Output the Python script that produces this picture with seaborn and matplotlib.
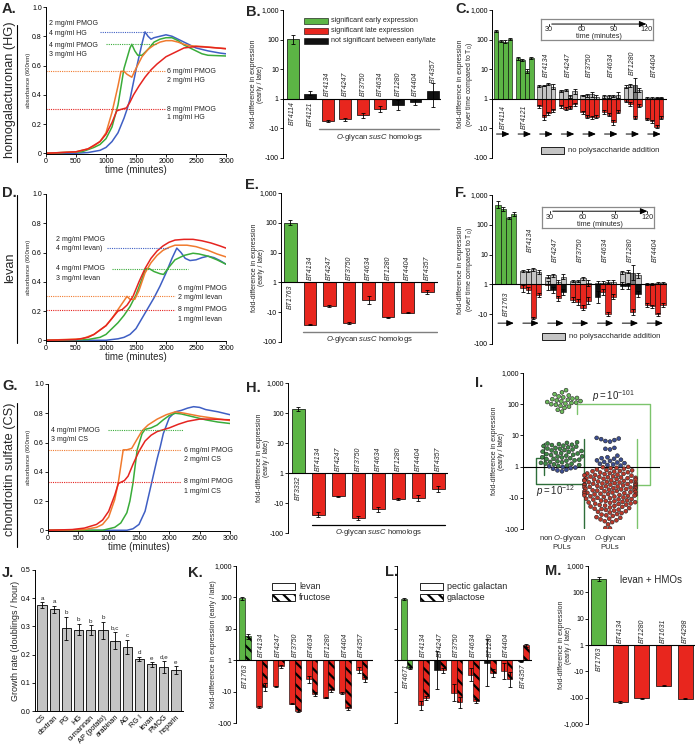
import numpy as np
import pandas as pd
import matplotlib
matplotlib.use("Agg")
import matplotlib.pyplot as plt
import seaborn as sns
from matplotlib.patches import Rectangle
from matplotlib.lines import Line2D

sns.set_theme(style="ticks")
plt.rcParams["font.family"] = ["Liberation Sans", "DejaVu Sans"]
plt.rcParams.update({
    "mathtext.fontset": "custom", "mathtext.rm": "Liberation Sans",
    "mathtext.it": "Liberation Sans:italic", "mathtext.bf": "Liberation Sans:bold",
    "axes.linewidth": 0.7, "xtick.major.width": 0.6, "ytick.major.width": 0.6,
    "xtick.major.size": 2, "ytick.major.size": 2, "xtick.labelsize": 5, "ytick.labelsize": 5,
    "xtick.major.pad": 1, "ytick.major.pad": 1, "hatch.linewidth": 1.6,
    "axes.edgecolor": "black", "xtick.color": "black", "ytick.color": "black",
})

# ------------------------------------------------------------------ DATA
# growth curves (time in minutes, absorbance 600nm)
A_blue_t = [0, 500, 700, 900, 1000, 1100, 1200, 1300, 1350, 1400, 1500, 1600, 1650, 1700, 1750, 1800, 1900, 2000, 2100, 2200, 2300, 2400, 2500, 2700, 2900, 3000]
A_blue_a = [0, 0, 0.005, 0.02, 0.04, 0.08, 0.14, 0.24, 0.30, 0.37, 0.57, 0.75, 0.83, 0.80, 0.78, 0.79, 0.80, 0.81, 0.80, 0.78, 0.76, 0.74, 0.72, 0.70, 0.685, 0.68]
A_green_t = [0, 600, 800, 900, 1000, 1100, 1200, 1300, 1400, 1430, 1480, 1530, 1600, 1700, 1800, 1900, 2000, 2100, 2200, 2300, 2400, 2500, 2600, 2700, 3000]
A_green_a = [0, 0.01, 0.04, 0.06, 0.10, 0.18, 0.33, 0.58, 0.72, 0.745, 0.70, 0.67, 0.67, 0.71, 0.76, 0.78, 0.79, 0.79, 0.77, 0.74, 0.72, 0.70, 0.68, 0.67, 0.665]
A_orange_t = [0, 500, 700, 800, 900, 1000, 1100, 1200, 1250, 1300, 1350, 1430, 1500, 1600, 1700, 1800, 1900, 2000, 2100, 2200, 2300, 2400, 2600, 3000]
A_orange_a = [0, 0.01, 0.03, 0.05, 0.08, 0.14, 0.28, 0.46, 0.56, 0.56, 0.54, 0.52, 0.58, 0.66, 0.71, 0.74, 0.76, 0.77, 0.77, 0.76, 0.745, 0.735, 0.73, 0.715]
A_red_t = [0, 500, 700, 900, 1000, 1100, 1180, 1250, 1340, 1400, 1460, 1550, 1650, 1750, 1850, 2000, 2150, 2300, 2500, 2700, 3000]
A_red_a = [0, 0.01, 0.03, 0.08, 0.13, 0.21, 0.29, 0.30, 0.31, 0.35, 0.40, 0.46, 0.52, 0.57, 0.61, 0.66, 0.69, 0.72, 0.73, 0.725, 0.715]

D_blue_t = [0, 1000, 1200, 1300, 1400, 1500, 1600, 1700, 1800, 1900, 2000, 2100, 2180, 2250, 2320, 2400, 2500, 2600, 2700, 2800, 2900, 3000]
D_blue_a = [0, 0.0, 0.01, 0.02, 0.04, 0.08, 0.15, 0.22, 0.29, 0.37, 0.46, 0.56, 0.63, 0.60, 0.56, 0.545, 0.55, 0.565, 0.575, 0.565, 0.545, 0.52]
D_green_t = [0, 700, 900, 1000, 1100, 1200, 1300, 1400, 1500, 1600, 1660, 1720, 1800, 1900, 1960, 2050, 2150, 2300, 2450, 2550, 2700, 2850, 3000]
D_green_a = [0, 0.005, 0.02, 0.04, 0.08, 0.12, 0.17, 0.23, 0.31, 0.42, 0.49, 0.49, 0.47, 0.455, 0.45, 0.50, 0.55, 0.58, 0.595, 0.59, 0.575, 0.55, 0.52]
D_orange_t = [0, 600, 800, 900, 1000, 1100, 1200, 1300, 1350, 1400, 1480, 1550, 1650, 1750, 1850, 1950, 2050, 2150, 2350, 2500, 2700, 2850, 3000]
D_orange_a = [0, 0.01, 0.04, 0.07, 0.10, 0.15, 0.21, 0.27, 0.30, 0.28, 0.28, 0.34, 0.46, 0.53, 0.58, 0.615, 0.635, 0.65, 0.65, 0.64, 0.615, 0.59, 0.57]
D_red_t = [0, 500, 700, 800, 900, 1000, 1100, 1200, 1270, 1350, 1450, 1550, 1650, 1750, 1850, 1950, 2050, 2150, 2300, 2450, 2600, 2750, 2900, 3000]
D_red_a = [0, 0.005, 0.02, 0.04, 0.07, 0.10, 0.15, 0.20, 0.21, 0.24, 0.30, 0.40, 0.49, 0.56, 0.61, 0.645, 0.67, 0.685, 0.69, 0.69, 0.68, 0.665, 0.645, 0.63]

G_blue_t = [0, 1300, 1400, 1500, 1600, 1700, 1800, 1850, 1900, 2000, 2100, 2200, 2300, 2400, 2500, 2600, 2800, 3000]
G_blue_a = [0, 0.0, 0.01, 0.04, 0.13, 0.31, 0.49, 0.57, 0.66, 0.77, 0.81, 0.82, 0.835, 0.845, 0.84, 0.825, 0.81, 0.79]
G_green_t = [0, 900, 1000, 1100, 1200, 1300, 1350, 1400, 1470, 1550, 1600, 1700, 1800, 1900, 2000, 2100, 2200, 2400, 2600, 2800, 3000]
G_green_a = [0, 0.0, 0.01, 0.02, 0.05, 0.12, 0.20, 0.32, 0.55, 0.66, 0.69, 0.70, 0.72, 0.755, 0.785, 0.80, 0.795, 0.775, 0.755, 0.74, 0.73]
G_orange_t = [0, 600, 800, 900, 1000, 1100, 1160, 1240, 1300, 1380, 1450, 1550, 1650, 1800, 1950, 2100, 2250, 2500, 2750, 3000]
G_orange_a = [0, 0.005, 0.02, 0.04, 0.09, 0.21, 0.33, 0.55, 0.55, 0.56, 0.61, 0.68, 0.72, 0.76, 0.79, 0.81, 0.80, 0.78, 0.765, 0.75]
G_red_t = [0, 400, 600, 800, 900, 1000, 1100, 1160, 1260, 1320, 1400, 1500, 1600, 1700, 1800, 2000, 2150, 2300, 2500, 2700, 3000]
G_red_a = [0, 0.005, 0.015, 0.04, 0.07, 0.13, 0.24, 0.32, 0.34, 0.37, 0.45, 0.54, 0.61, 0.65, 0.675, 0.70, 0.725, 0.745, 0.76, 0.76, 0.755]

A_notes = [("2 mg/ml PMOG", "4 mg/ml HG"), ("4 mg/ml PMOG", "3 mg/ml HG"),
           ("6 mg/ml PMOG", "2 mg/ml HG"), ("8 mg/ml PMOG", "1 mg/ml HG")]
A_levels = [0.83, 0.745, 0.56, 0.30]
D_notes = [("2 mg/ml PMOG", "4 mg/ml levan)"), ("4 mg/ml PMOG", "3 mg/ml levan"),
           ("6 mg/ml PMOG", "2 mg/ml levan"), ("8 mg/ml PMOG", "1 mg/ml levan")]
D_levels = [0.63, 0.49, 0.30, 0.21]
G_notes = [("4 mg/ml PMOG", "3 mg/ml CS"), ("6 mg/ml PMOG", "2 mg/ml CS"), ("8 mg/ml PMOG", "1 mg/ml CS")]
G_levels = [0.687, 0.549, 0.33]

# fold-difference bar panels (early / late)
B_genes = ["BT4114", "BT4121", "BT4134", "BT4247", "BT3750", "BT4634", "BT1280", "BT4404", "BT4357"]
B_fold = [105, 1.47, -5.5, -5.0, -3.6, -2.15, -1.6, -1.3, 1.9]
B_err_lo = [0.16, 0.03, 0.03, 0.05, 0.09, 0.1, 0.17, 0.1, 0.56]
B_err_hi = [0.15, 0.11, 0.03, 0.05, 0.09, 0.1, 0.17, 0.1, 0.24]
B_cls = ["early", "ns", "late", "late", "late", "late", "ns", "ns", "ns"]

E_genes = ["BT1763", "BT4134", "BT4247", "BT3750", "BT4634", "BT1280", "BT4404", "BT4357"]
E_fold = [100, -26, -6.2, -23, -4.0, -14.6, -10.4, -2.1]
E_err = [0.08, 0.03, 0.02, 0.03, 0.13, 0.02, 0.02, 0.08]

H_genes = ["BT3332", "BT4134", "BT4247", "BT3750", "BT4634", "BT1280", "BT4404", "BT4357"]
H_fold = [135, -24.5, -6.0, -32, -16, -7.2, -6.8, -3.4]
H_err = [0.07, 0.08, 0.02, 0.07, 0.08, 0.03, 0.09, 0.09]

M_genes = ["BT1763", "BT4134", "BT1280", "BT1631", "BT4298"]
M_fold = [320, -150, -107, -35, -112]
M_err = [0.06, 0.04, 0.03, 0.02, 0.02]

# time course panels (fold vs T0 at 30/60/90/120 min)
C_genes = ["BT4114", "BT4121", "BT4134", "BT4247", "BT3750", "BT4634", "BT1280", "BT4404"]
C_treat = [[190, 88, 84, 107], [23, 21, 8.5, 24.5], [-1.8, -4.2, -3.1, -2.4], [-1.8, -2.2, -2.0, -1.55],
           [-2.8, -4.0, -4.2, -4.0], [-2.8, -3.5, -6.2, -2.7], [-1.15, -1.5, -4.3, -1.7], [-4.8, -5.7, -8.7, -4.3]]
C_treat_cls = ["gggg", "gggg", "rrrr", "rrrr", "rrrr", "rrrr", "rrrr", "rrrr"]
C_treat_err = [[0.03, 0.03, 0.05, 0.03], [0.06, 0.03, 0.07, 0.03], [0.04, 0.08, 0.05, 0.05], [0.05, 0.05, 0.05, 0.06],
               [0.05, 0.06, 0.05, 0.06], [0.06, 0.05, 0.08, 0.06], [0.06, 0.06, 0.06, 0.06], [0.04, 0.05, 0.06, 0.05]]
C_ctrl = [[np.nan] * 4, [np.nan] * 4, [2.7, 2.8, 3.2, 2.6], [1.8, 2.0, 1.2, 1.8], [1.3, 1.3, 1.4, 1.15],
          [1.2, 1.2, 1.25, 1.3], [2.6, 2.9, 2.9, 2.0], [1.05, 1.05, 1.1, 1.1]]
C_ctrl_cls = ["ssss", "ssss", "ssss", "ssss", "ssss", "ssss", "ssds", "ssss"]
C_ctrl_err = [[0] * 4, [0] * 4, [0.03, 0.03, 0.04, 0.08], [0.04, 0.04, 0.06, 0.08], [0.03, 0.04, 0.08, 0.08],
              [0.05, 0.05, 0.04, 0.1], [0.04, 0.05, 0.24, 0.08], [0.03, 0.03, 0.03, 0.03]]

F_genes = ["BT1763", "BT4134", "BT4247", "BT3750", "BT4634", "BT1280", "BT4404"]
F_treat = [[470, 340, 166, 235], [-1.35, -1.55, -13.5, -2.3], [-1.05, -1.5, -2.9, -1.75], [-3.3, -3.8, -6.0, -3.5],
           [-2.6, -1.75, -10, -2.6], [-1.1, -1.1, -8.5, -2.1], [-4.9, -5.5, -10, -4.9]]
F_treat_cls = ["gggg", "rrrr", "rkrk", "rrrr", "krrr", "kkrk", "rrrr"]
F_treat_err = [[0.12, 0.06, 0.04, 0.07], [0.12, 0.1, 0.04, 0.06], [0.15, 0.1, 0.08, 0.1], [0.08, 0.1, 0.08, 0.12],
               [0.2, 0.1, 0.06, 0.08], [0.12, 0.1, 0.1, 0.1], [0.06, 0.06, 0.05, 0.06]]
F_ctrl = [[np.nan] * 4, [2.8, 2.9, 3.2, 2.6], [1.8, 2.0, 1.2, 1.8], [1.3, 1.3, 1.6, 1.1],
          [1.15, 1.15, 1.25, 1.2], [2.6, 2.7, 2.5, 2.0], [1.05, 1.05, 1.1, 1.1]]
F_ctrl_cls = ["ssss", "ssss", "ssss", "ssss", "ssss", "ssds", "ssss"]
F_ctrl_err = [[0] * 4, [0.04, 0.04, 0.05, 0.06], [0.05, 0.04, 0.06, 0.08], [0.03, 0.04, 0.06, 0.1],
              [0.05, 0.05, 0.05, 0.08], [0.05, 0.05, 0.25, 0.08], [0.03, 0.03, 0.03, 0.03]]
time_ticks = [30, 60, 90, 120]

# panel I: log10 fold-difference of individual genes
I_nonO_high = [2.45, 2.38, 2.32, 2.28, 2.25, 2.22, 2.2, 2.18, 2.16, 2.14, 2.12, 2.1, 2.09, 2.07, 2.05, 2.04,
               2.02, 2.0, 1.98, 1.95, 1.92, 1.88, 1.82, 1.76]
I_nonO_low = [0.78, 0.76, 0.74, 0.72, 0.7, 0.69, 0.67, 0.66, 0.64, 0.62, 0.6, 0.58, 0.57, 0.55, 0.53, 0.52, 0.5,
              0.48, 0.47, 0.45, 0.43, 0.42, 0.4, 0.38, 0.37, 0.35, 0.33, 0.32, 0.3, 0.29, 0.27, 0.25, 0.24, 0.22,
              0.2, 0.19, 0.17, 0.15, 0.14, 0.12, 0.1, 0.09, 0.07, 0.05, 0.04, 0.02]
I_nonO_blue = [0.01, -0.01, -0.03, -0.05, -0.07, -0.1, -0.12, -0.15]
I_O_blue = [0.92, 0.9, 0.88, 0.85, 0.82, 0.8, 0.6, 0.57, 0.55, 0.35, 0.3, 0.27, 0.25, 0.22, 0.2, 0.18, 0.15,
            0.13, 0.11, 0.09, 0.07, 0.05, 0.03]
I_O_red = [-0.01, -0.02, -0.04, -0.05, -0.07, -0.09,
           -0.11, -0.12, -0.14, -0.15, -0.16, -0.18, -0.19,
           -0.21, -0.22, -0.23, -0.24, -0.26, -0.27, -0.28, -0.29,
           -0.31, -0.32, -0.33, -0.34, -0.35, -0.36, -0.37, -0.38, -0.39,
           -0.4, -0.41, -0.42, -0.43, -0.44, -0.45, -0.46, -0.47, -0.48, -0.49,
           -0.5, -0.51, -0.52, -0.53, -0.54, -0.55, -0.56, -0.57, -0.575, -0.58, -0.59,
           -0.6, -0.61, -0.62, -0.63, -0.64, -0.65, -0.66, -0.665, -0.67, -0.68, -0.69,
           -0.7, -0.71, -0.72, -0.73, -0.74, -0.75, -0.76, -0.77, -0.78, -0.79,
           -0.8, -0.81, -0.82, -0.83, -0.84, -0.85, -0.86, -0.87, -0.88, -0.89,
           -0.9, -0.91, -0.92, -0.93, -0.94, -0.95, -0.96, -0.97, -0.99,
           -1.0, -1.01, -1.03, -1.04, -1.05, -1.06, -1.08, -1.09,
           -1.1, -1.11, -1.13, -1.14, -1.15, -1.16, -1.18, -1.19,
           -1.2, -1.22, -1.23, -1.25, -1.26, -1.28, -1.29,
           -1.31, -1.33, -1.35, -1.36, -1.38, -1.39,
           -1.41, -1.43, -1.45, -1.47, -1.49,
           -1.52, -1.54, -1.56, -1.58,
           -1.62, -1.64, -1.67, -1.69,
           -1.72, -1.75, -1.78, -1.85, -1.97, -1.98]

# panel J growth rates
J_subs = ["CS", "dextran", "PG", "HG", "α-mannan", "AP (potato)", "arabinan", "AG", "RG I", "levan", "PMOG", "heparin"]
J_rate = [0.375, 0.36, 0.293, 0.288, 0.286, 0.287, 0.25, 0.228, 0.184, 0.165, 0.155, 0.145]
J_err = [0.01, 0.013, 0.04, 0.02, 0.018, 0.03, 0.03, 0.025, 0.007, 0.008, 0.022, 0.013]
J_letters = ["a", "a", "b", "b", "b", "b", "b,c", "c", "d", "e", "d,e", "e"]

# panels K and L: paired polysaccharide / monosaccharide
K_genes = ["BT1763", "BT4134", "BT4247", "BT3750", "BT4634", "BT1280", "BT4404", "BT4357"]
K_levan = [95, -31, -6.7, -24, -4.1, -15.7, -11.4, -2.1]
K_fructose = [5.8, -7.2, -1.55, -40, -11.7, -9.2, -34, -4.1]
K_levan_err = [0.05, 0.03, 0.02, 0.03, 0.12, 0.02, 0.03, 0.1]
K_fructose_err = [0.08, 0.12, 0.05, 0.06, 0.06, 0.04, 0.05, 0.07]
K_levan_cls = "grrrrrrr"
K_fructose_cls = "grrrrrrr"
L_genes = ["BT4671", "BT4134", "BT4247", "BT3750", "BT4634", "BT1280", "BT4404", "BT4357"]
L_pgal = [90, -27, -2.1, -11, -2.9, -1.2, -2.2, -1.1]
L_galactose = [-1.75, -15.7, -2.1, -22, -20, -2.5, -4.1, 3.0]
L_pgal_err = [0.04, 0.14, 0.6, 0.27, 0.2, 0.75, 0.25, 0.02]
L_galactose_err = [0.03, 0.06, 0.08, 0.18, 0.06, 0.13, 0.24, 0.05]
L_pgal_cls = "grkrrkrk"
L_galactose_cls = "grrrrrrr"

fold_ticks = [1000, 100, 10, 1, -10, -100]
fold_ticks_M = [1000, 100, 10, 1, -10, -100, -1000]

# ------------------------------------------------------------------ STYLE
GREEN, RED, BLACK, GRAY, DGRAY = "#5cb545", "#e8261e", "#111111", "#c4c4c4", "#767676"
CMAP = {"g": GREEN, "r": RED, "k": BLACK, "s": GRAY, "d": DGRAY,
        "early": GREEN, "late": RED, "ns": BLACK}
LBLUE, LGREEN, LORANGE, LRED = "#3f5fc4", "#3aac3a", "#f07a2e", "#e52420"

W, H = 696, 747
fig = plt.figure(figsize=(W / 100, H / 100), dpi=100)


def axbox(x0, y0, x1, y1):
    return fig.add_axes([x0 / W, 1 - y1 / H, (x1 - x0) / W, (y1 - y0) / H])


def tr(v):
    v = np.asarray(v, float)
    return np.sign(v) * np.log10(np.abs(v))


def ylab(ax, text, xr, x0, x1, fs=5):
    ax.set_ylabel(text, fontsize=fs, linespacing=1.0)
    ax.yaxis.set_label_coords((xr - x0) / (x1 - x0), 0.5)


def fold_axis(ax, ticks, lo, hi, labels=True):
    ax.set_ylim(lo, hi)
    ax.set_yticks(tr(ticks))
    ax.set_yticklabels([f"{t:,}" for t in ticks] if labels else [])
    for s in ["top", "right", "bottom"]:
        ax.spines[s].set_visible(False)
    ax.tick_params(axis="x", bottom=False, labelbottom=False)
    ax.set_xlabel("")
    ax.axhline(0, color="black", lw=0.8, zorder=5)


def ebar(ax, x, y, lo, hi=None):
    hi = lo if hi is None else hi
    ax.errorbar(x, y, yerr=[[lo], [hi]], fmt="none", ecolor="black", elinewidth=0.6,
                capsize=1.4, capthick=0.6, zorder=6)


def gene_text(ax, x, y, name, va):
    ax.text(x, y, name, rotation=90, fontsize=5, style="italic", ha="center", va=va, zorder=7)


def fig_rect(x, y, w, h, **kw):
    fig.add_artist(Rectangle((x / W, 1 - (y + h) / H), w / W, h / H, transform=fig.transFigure, **kw))


def fig_text(x, y, s, **kw):
    fig.text(x / W, 1 - y / H, s, **kw)


# ------------------------------------------------------------------ growth panels
def growth(box, series, levels, spans, notes, note_pos):
    ax = axbox(*box)
    for (t, a), c in zip(series, [LBLUE, LGREEN, LORANGE, LRED]):
        sns.lineplot(x=t, y=a, color=c, lw=1.1, ax=ax)
    cols = [LBLUE, LGREEN, LORANGE, LRED][4 - len(levels):]
    for lev, (s0, s1), c in zip(levels, spans, cols):
        ax.plot([s0, s1], [lev, lev], ls=(0, (1, 1)), color=c, lw=0.8)
    for (l1, l2), (tx, ty1, ty2) in zip(notes, note_pos):
        ax.text(tx, ty1, l1, fontsize=5, va="center", color="#222222")
        ax.text(tx, ty2, l2, fontsize=5, va="center", color="#222222")
    ax.set_xlim(0, 3000)
    ax.set_ylim(-0.005, 1.0)
    ax.set_xticks([0, 500, 1000, 1500, 2000, 2500, 3000])
    ax.set_yticks([0, 0.2, 0.4, 0.6, 0.8, 1.0])
    ax.set_yticklabels(["0", "0.2", "0.4", "0.6", "0.8", "1.0"])
    ax.spines["top"].set_visible(False)
    ax.spines["right"].set_visible(False)
    ax.set_xlabel("time (minutes)", fontsize=7, labelpad=0)
    ylab(ax, "absorbance (600nm)", 31, box[0], box[2], fs=4.3)
    return ax


growth((46, 7, 226, 154),
       [(A_blue_t, A_blue_a), (A_green_t, A_green_a), (A_orange_t, A_orange_a), (A_red_t, A_red_a)],
       A_levels, [(900, 1760), (1000, 1845), (0, 1980), (0, 1980)], A_notes,
       [(55, 0.89, 0.82), (55, 0.74, 0.675), (2010, 0.56, 0.50), (2010, 0.30, 0.243)])
growth((46, 194, 226, 341),
       [(D_blue_t, D_blue_a), (D_green_t, D_green_a), (D_orange_t, D_orange_a), (D_red_t, D_red_a)],
       D_levels, [(1010, 2040), (1095, 2370), (0, 2150), (0, 2150)], D_notes,
       [(167, 0.69, 0.63), (167, 0.49, 0.425), (2205, 0.357, 0.293), (2205, 0.209, 0.14)])
growth((48, 384, 230, 531),
       [(G_blue_t, G_blue_a), (G_green_t, G_green_a), (G_orange_t, G_orange_a), (G_red_t, G_red_a)],
       G_levels, [(990, 2230), (0, 2200), (0, 2200)], G_notes,
       [(55, 0.683, 0.62), (2240, 0.545, 0.484), (2240, 0.33, 0.264)])

for txt, yc, (l0, l1) in [("homogalacturonan (HG)", 90, (25, 162)), ("levan", 268, (195, 343)),
                          ("chondroitin sulfate (CS)", 469, (403, 547))]:
    fig_text(10, yc, txt, rotation=90, fontsize=9.2, ha="center", va="center")
    fig.add_artist(Line2D([17 / W, 17 / W], [1 - l0 / H, 1 - l1 / H], transform=fig.transFigure,
                          color="black", lw=0.8))


# ------------------------------------------------------------------ simple fold bar panels
def fold_bars(box, genes, fold, colors, err_lo, err_hi, xlim, width, ticks, lo, hi, label_pos, ylab_x,
              ylabel_text):
    ax = axbox(*box)
    df = pd.DataFrame({"gene": genes, "v": tr(fold)})
    sns.barplot(data=df, x="gene", y="v", hue="gene", order=genes, palette=dict(zip(genes, colors)),
                width=width, edgecolor="black", linewidth=0.5, legend=False, errorbar=None,
                saturation=1, ax=ax)
    for i, v in enumerate(tr(fold)):
        ebar(ax, i, v, err_lo[i], err_hi[i])
        pos = label_pos[i]
        if pos == "below":
            gene_text(ax, i, -0.08, genes[i], "top")
        elif pos == "above":
            gene_text(ax, i, 0.08, genes[i], "bottom")
        else:
            gene_text(ax, i, v + err_hi[i] + 0.03, genes[i], "bottom")
    fold_axis(ax, ticks, lo, hi)
    ax.set_xlim(*xlim)
    ylab(ax, ylabel_text, ylab_x, box[0], box[2])
    return ax


EL = "fold-difference in expression\n(early / late)"
axB = fold_bars((283, 10, 441, 158), B_genes, B_fold, [CMAP[c] for c in B_cls], B_err_lo, B_err_hi,
                (-0.55, 8.46), 0.67, fold_ticks, -2, 3,
                ["below", "below"] + ["above"] * 6 + ["top"], 264, EL)
axB.plot([1.52, 8.37], [-1.03, -1.03], color="#7f7f7f", lw=1.0)
axB.text(4.94, -1.13, r"$O$-glycan $susC$ homologs", fontsize=5.5, ha="center", va="top")
for k, (cl, lab) in enumerate([("early", "significant early expression"), ("late", "significant late expression"),
                               ("ns", "not significant between early/late")]):
    fig_rect(304, 18 + 10 * k, 24, 5.5, facecolor=CMAP[cl], edgecolor="black", lw=0.4)
    fig_text(331, 21 + 10 * k, lab, fontsize=5.2, va="center")

axE = fold_bars((281, 193, 438, 342), E_genes, E_fold, [GREEN] + [RED] * 7, E_err, E_err,
                (-0.48, 7.55), 0.65, fold_ticks, -2, 3, ["below"] + ["above"] * 7, 265, EL)
axE.plot([0.66, 7.48], [-1.65, -1.65], color="#7f7f7f", lw=1.0)
axE.text(4.07, -1.73, r"$O$-glycan $susC$ homologs", fontsize=5.5, ha="center", va="top")

axH = fold_bars((288, 383, 448, 533), H_genes, H_fold, [GREEN] + [RED] * 7, H_err, H_err,
                (-0.52, 7.49), 0.66, fold_ticks, -2, 3, ["below"] + ["above"] * 7, 270, EL)
axH.plot([0.67, 7.33], [-1.72, -1.72], color="black", lw=0.9)
axH.text(4.0, -1.79, r"$O$-glycan $susC$ homologs", fontsize=5.5, ha="center", va="top")

axM = fold_bars((588, 566, 695, 724), M_genes, M_fold, [GREEN] + [RED] * 4, M_err, M_err,
                (-0.5, 4.46), 0.7, fold_ticks_M, -3, 3, ["below"] + ["above"] * 4, 572, EL)
fig_text(620, 580, "levan + HMOs", fontsize=7, va="center")


# ------------------------------------------------------------------ time course panels C and F
def time_panel(box, genes, treat, tcls, terr, ctrl, ccls, cerr, xlim, lab_above, lab_below, arrow_y,
               inset_box, inset_rows, leg):
    ax = axbox(*box)
    w = 0.21
    for g in range(len(genes)):
        for k in range(4):
            x = g + (k - 1.5) * w
            tv = tr(treat[g][k])
            ax.bar(x, tv, width=w, color=CMAP[tcls[g][k]], edgecolor="black", lw=0.4, zorder=3)
            ebar(ax, x, tv, terr[g][k])
            if not np.isnan(ctrl[g][k]):
                cv = tr(ctrl[g][k])
                ax.bar(x, cv, width=w, color=CMAP[ccls[g][k]], edgecolor="black", lw=0.4, zorder=3)
                ebar(ax, x, cv, cerr[g][k])
        if tr(treat[g][0]) > 0:
            gene_text(ax, g, lab_below, genes[g], "top")
        else:
            gene_text(ax, g, lab_above[g], genes[g], "bottom")
        ax.annotate("", xy=(g + 0.43, arrow_y), xytext=(g - 0.43, arrow_y),
                    arrowprops=dict(arrowstyle="-|>,head_length=0.35,head_width=0.15", color="black", lw=0.7))
    fold_axis(ax, fold_ticks, -2, 3)
    ax.set_xlim(*xlim)
    ylab(ax, "fold-difference in expression\n(over time compared to T$_0$)", 475, box[0], box[2])
    # inset time axis
    ia = axbox(*inset_box)
    ia.set_xlim(22.6, 126.5)
    ia.set_ylim(0, 1)
    ia.set_xticks([])
    ia.set_yticks([])
    for s in ia.spines.values():
        s.set_edgecolor("#8a8a8a")
        s.set_linewidth(0.9)
    ay, ty, ly = inset_rows
    ia.annotate("", xy=(123, ay), xytext=(30, ay),
                arrowprops=dict(arrowstyle="-|>,head_length=0.35,head_width=0.15", color="black", lw=0.7))
    for t in time_ticks:
        ia.plot([t, t], [ay - 0.1, ay], color="black", lw=0.6)
        ia.text(t, ty, str(t), fontsize=5.2, ha="center", va="center")
    ia.text(76, ly, "time (minutes)", fontsize=5.2, ha="center", va="center")
    fig_rect(leg[0], leg[1], 23, 6.5, facecolor=GRAY, edgecolor="black", lw=0.6)
    fig_text(leg[0] + 27, leg[1] + 3.3, "no polysaccharide addition", fontsize=5.5, va="center")
    return ax


time_panel((492, 10, 667, 158), C_genes, C_treat, C_treat_cls, C_treat_err, C_ctrl, C_ctrl_cls, C_ctrl_err,
           (-0.51, 7.59), [0, 0, 0.72, 0.72, 0.72, 0.72, 0.8, 0.72], -0.2, -1.19,
           (541, 19, 653, 40), (0.76, 0.48, 0.18), (541, 147))
time_panel((492, 195, 667, 344), F_genes, F_treat, F_treat_cls, F_treat_err, F_ctrl, F_ctrl_cls, F_ctrl_err,
           (-0.56, 6.48), [0, 1.09, 0.75, 0.75, 0.75, 0.75, 0.75], -0.24, -1.3,
           (542, 207, 654, 228), (0.8, 0.48, 0.18), (542, 333))

# ------------------------------------------------------------------ panel I
axI = axbox(523, 373, 660, 529)
fold_axis(axI, fold_ticks, -2, 3)
axI.set_xlim(-0.81, 2.04)
axI.set_xticks([])
ylab(axI, EL, 505, 523, 660)
axI.text(0.0, -2.12, "non $O$-glycan\nPULs", fontsize=5.5, ha="center", va="top", linespacing=1.1)
axI.text(1.0, -2.12, "$O$-glycan\nPULs", fontsize=5.5, ha="center", va="top", linespacing=1.1)
LG, DGR = "#7cc46c", "#2e6e3a"
axI.plot([0.31, 0.31, 1.83, 1.83, 1.56], [1.68, 2.02, 2.02, -0.585, -0.585], color=LG, lw=1.0)
axI.plot([1.56, 1.56], [0.9, -1.97], color=LG, lw=1.0)
axI.plot([-0.37, -0.37], [0.77, -0.27], color=DGR, lw=1.0)
axI.plot([-0.37, -0.53, -0.53, 0.465], [0.27, 0.27, -0.55, -0.55], color=DGR, lw=1.0)
axI.plot([0.465, 0.465], [0.9, -1.97], color=DGR, lw=1.0)
axI.text(0.62, 2.25, r"$p = 10^{-101}$", fontsize=7, va="center")
axI.text(-0.53, -0.78, r"$p = 10^{-12}$", fontsize=7, va="center")

I_pal = {"hi": "#6dbb5c", "lo": "#3f8a45", "blue": "#3c4f94", "red": "#c0392b"}
for xc, parts in [(562, [(I_nonO_high, "hi"), (I_nonO_low, "lo"), (I_nonO_blue, "blue")]),
                  (610, [(I_O_blue, "blue"), (I_O_red, "red")])]:
    ov = axbox(xc - 32, 373, xc + 32, 529)
    vals = [v for arr, _ in parts for v in arr]
    cls = [c for arr, c in parts for _ in arr]
    dfi = pd.DataFrame({"grp": "g", "v": vals, "cls": cls})
    sns.swarmplot(data=dfi, x="grp", y="v", hue="cls", palette=I_pal, size=2.8, edgecolor="#222222",
                  linewidth=0.4, legend=False, ax=ov)
    ov.set_xlim(-0.5, 0.5)
    ov.set_ylim(-2, 3)
    ov.axis("off")
    ov.patch.set_alpha(0)

# ------------------------------------------------------------------ panel J
axJ = axbox(35, 570, 183, 711)
sns.barplot(x=J_subs, y=J_rate, color="#c4c4c4", edgecolor="black", linewidth=0.6, width=0.77,
            errorbar=None, saturation=1, ax=axJ)
for i, (r, e, l) in enumerate(zip(J_rate, J_err, J_letters)):
    ebar(axJ, i, r, e)
    axJ.text(i, r + e + 0.006, l, fontsize=4.5, ha="center", va="bottom")
axJ.set_xlim(-0.58, 11.58)
axJ.set_ylim(0, 0.5)
axJ.set_yticks([0, 0.1, 0.2, 0.3, 0.4, 0.5])
axJ.set_yticklabels(["0.0", "0.1", "0.2", "0.3", "0.4", "0.5"])
axJ.set_xticks(range(len(J_subs)))
axJ.set_xticklabels(J_subs, rotation=45, ha="right", rotation_mode="anchor", fontsize=5.3)
axJ.tick_params(axis="x", length=0, pad=2)
axJ.spines["top"].set_visible(False)
axJ.spines["right"].set_visible(False)
ylab(axJ, "Growth rate (doublings / hour)", 20, 35, 183, fs=6.5)


# ------------------------------------------------------------------ panels K and L
def paired(box, genes, v1, c1, e1, v2, c2, e2, xlim, show_labels, below):
    ax = axbox(*box)
    w = 0.34
    for g in range(len(genes)):
        for vals, cls, errs, off, hatch in [(v1, c1, e1, -w / 2, None), (v2, c2, e2, w / 2, "\\\\\\")]:
            tv = tr(vals[g])
            ax.bar(g + off, tv, width=w, color=CMAP[cls[g]], edgecolor="black", lw=0.4, hatch=hatch, zorder=3)
            ebar(ax, g + off, tv, errs[g])
        if g in below:
            gene_text(ax, g, -0.1, genes[g], "top")
        else:
            gene_text(ax, g, 0.1, genes[g], "bottom")
    fold_axis(ax, fold_ticks, -2, 3, labels=show_labels)
    ax.set_xlim(*xlim)
    return ax


axK = paired((236, 566, 373, 723), K_genes, K_levan, K_levan_cls, K_levan_err, K_fructose, K_fructose_cls,
             K_fructose_err, (-0.54, 7.68), True, [0])
axK.set_ylabel("fold-difference in expression (early / late)", fontsize=5)
axK.yaxis.set_label_coords((217 - 236) / 137, 0.5)
axL = paired((397, 566, 532, 723), L_genes, L_pgal, L_pgal_cls, L_pgal_err, L_galactose, L_galactose_cls,
             L_galactose_err, (-0.58, 7.52), False, [0, 7])
for x0, names in [(272, ("levan", "fructose")), (420, ("pectic galactan", "galactose"))]:
    fig_rect(x0, 583, 23, 7, facecolor="white", edgecolor="black", lw=0.6)
    fig_rect(x0, 594, 23, 7, facecolor="white", edgecolor="black", lw=0.6, hatch="\\\\\\")
    fig_text(x0 + 27, 586.5, names[0], fontsize=6.5, va="center")
    fig_text(x0 + 27, 597.5, names[1], fontsize=6.5, va="center")

# ------------------------------------------------------------------ panel letters
for lab, x, y in [("A.", 2, 2), ("B.", 246, 5), ("C.", 455, 2), ("D.", 2, 186), ("E.", 245, 178),
                  ("F.", 455, 186), ("G.", 2, 379), ("H.", 246, 381), ("I.", 475, 376), ("J.", 2, 566),
                  ("K.", 188, 566), ("L.", 385, 565), ("M.", 545, 564)]:
    fig_text(x, y, lab, fontsize=10.5, fontweight="bold", va="top")

fig.savefig("out.png", dpi=100)
